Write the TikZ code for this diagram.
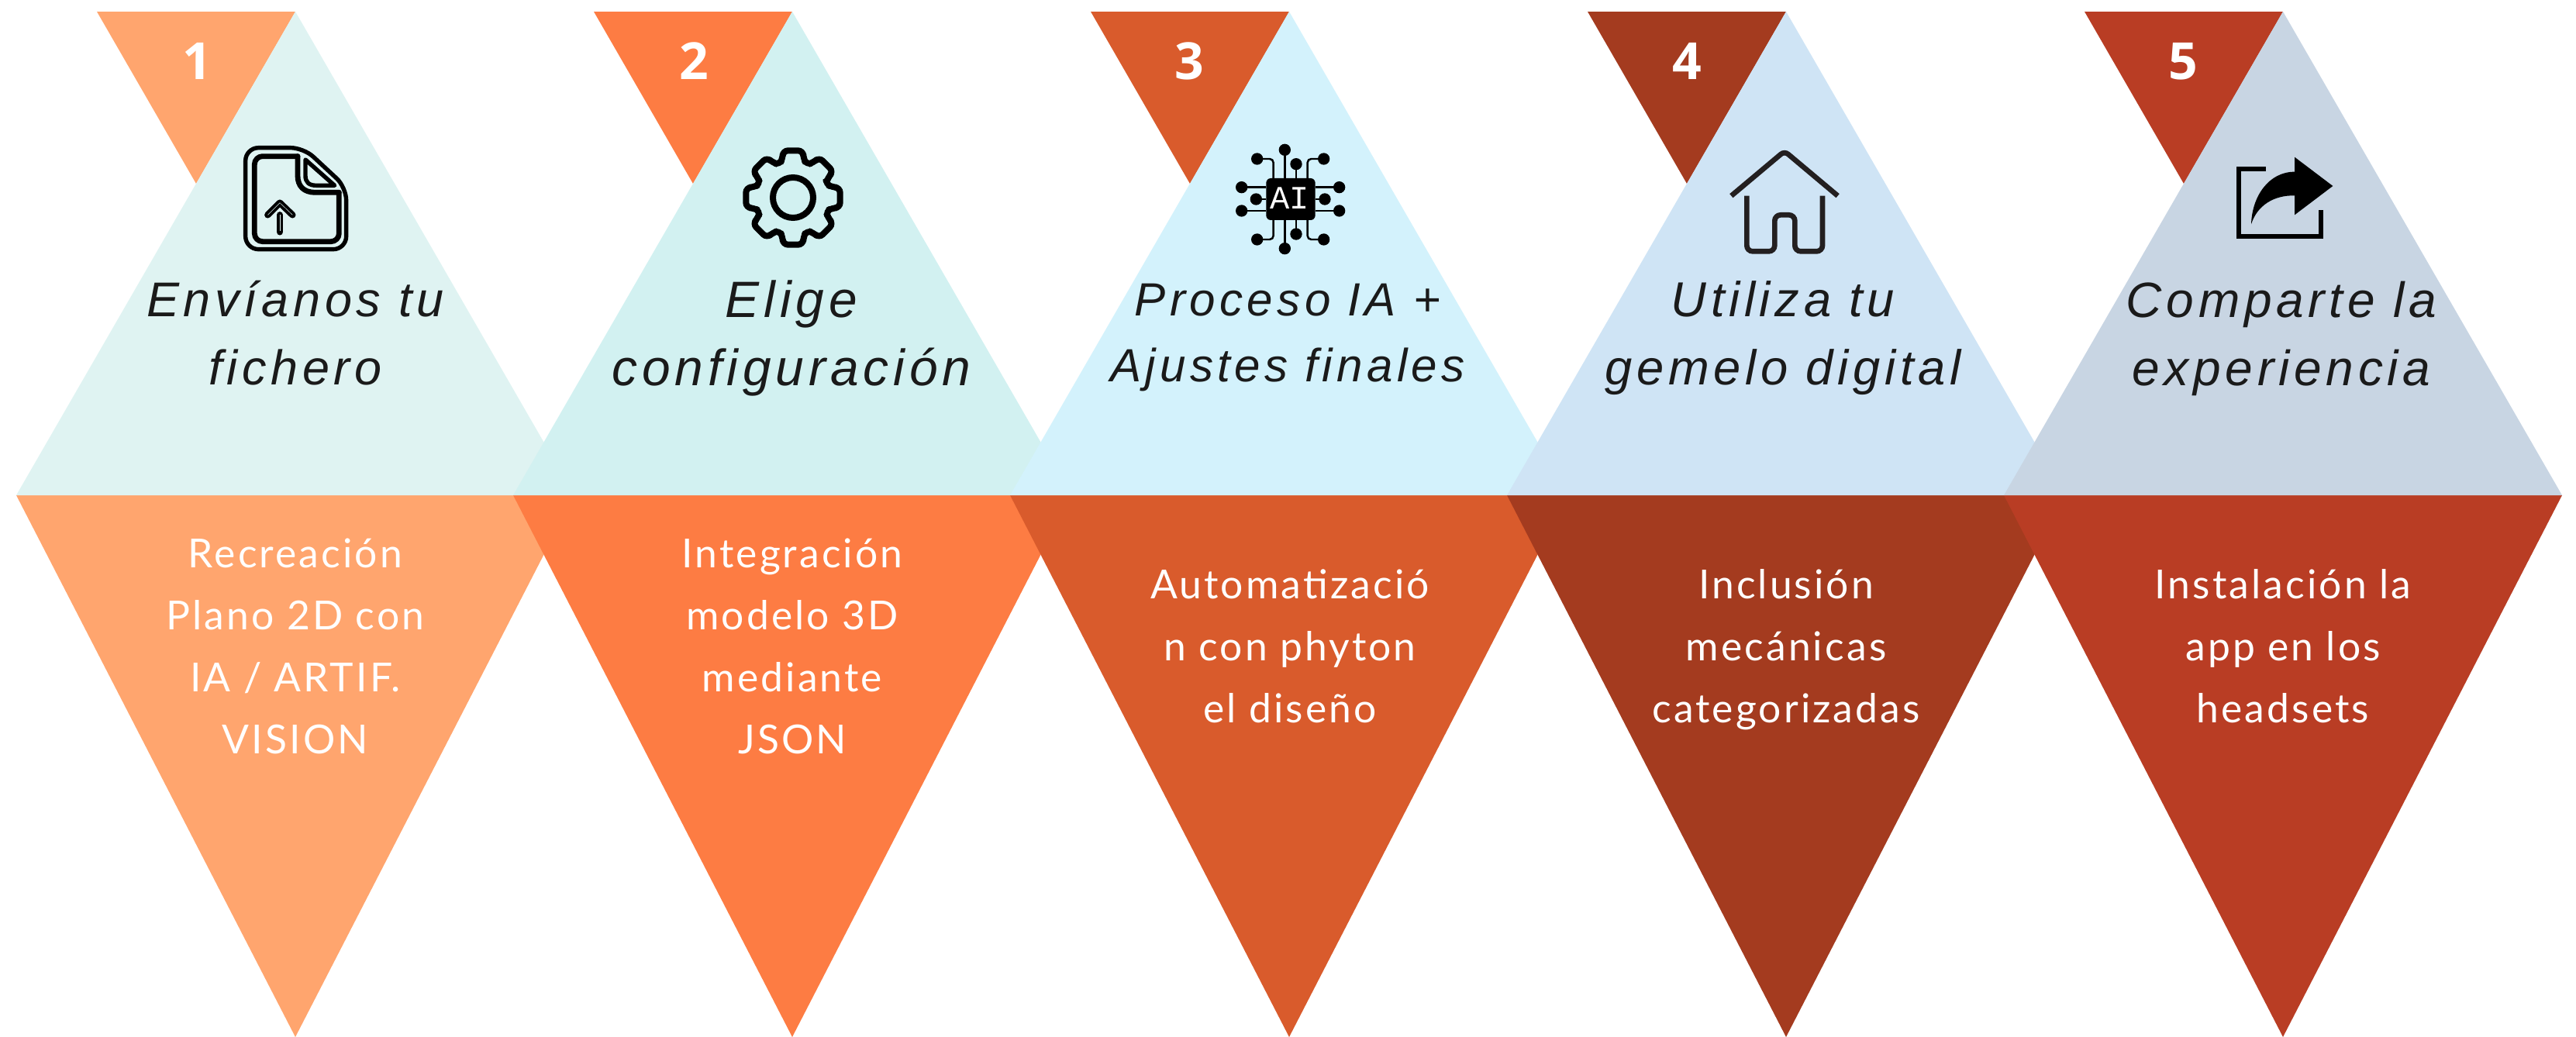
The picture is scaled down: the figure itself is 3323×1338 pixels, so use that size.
\documentclass[tikz,border=0pt]{standalone}
\usepackage{fontspec}
\setmainfont{Liberation Sans}
\newfontfamily\headfont[LetterSpace=9]{Liberation Sans}
\newfontfamily\bodyfont[LetterSpace=6]{Lato}
\newfontfamily\numfont{Open Sans}
\newfontfamily\chipfont{Liberation Mono}
\definecolor{topa}{HTML}{DFF3F2}
\definecolor{topb}{HTML}{D2F1F1}
\definecolor{topc}{HTML}{D3F2FC}
\definecolor{topd}{HTML}{CFE4F5}
\definecolor{tope}{HTML}{C8D5E3}
\definecolor{bota}{HTML}{FFA56E}
\definecolor{botb}{HTML}{FD7C43}
\definecolor{botc}{HTML}{D95B2C}
\definecolor{botd}{HTML}{A43B1F}
\definecolor{bote}{HTML}{B93D24}
\definecolor{ink}{HTML}{1A1A1A}
\definecolor{houseink}{HTML}{231F20}
\newcommand{\tb}{\rule[-0.25em]{0pt}{1em}}
\tikzset{
  headtext/.style={inner sep=0pt,align=center,text=ink},
  bodytext/.style={inner sep=0pt,align=center,text=white,font=\bodyfont\fontsize{12.9}{20.08}\selectfont},
  numtext/.style={inner sep=0pt,text=white,font=\numfont\bfseries\fontsize{16.5}{20}\selectfont},
  zoomed/.style={x=0.083333pt,y=-0.083333pt},
  wire/.style={line width=0.62pt,black,rounded corners=1.2pt},
  pad/.style={black},
}
\newcommand{\hf}[2]{\headfont\itshape\fontsize{#1}{#2}\selectfont}
\newcommand{\petal}[3]{% apex x, top colour, bottom colour
  \fill[#3] (#1-360,639) -- (#1+360,639) -- (#1,1338) -- cycle;
  \fill[#3] (#1-256,15) -- (#1,15) -- (#1-128,237) -- cycle;
  \fill[#2] (#1,15) -- (#1+360,639) -- (#1-360,639) -- cycle;
}
\begin{document}
\begin{tikzpicture}[x=0.25pt,y=-0.25pt]
\useasboundingbox (0,0) rectangle (3323,1338);
\fill[white] (0,0) rectangle (3323,1338);
\petal{381}{topa}{bota}
\petal{1022}{topb}{botb}
\petal{1663}{topc}{botc}
\petal{2304}{topd}{botd}
\petal{2945}{tope}{bote}

\node[numtext] (n1) at (254,79) {1};
\node[numtext] (n2) at (895,79) {2};
\node[numtext] (n3) at (1534,79) {3};
\node[numtext] (n4) at (2176,79) {4};
\node[numtext] (n5) at (2816,79) {5};

\node[headtext,font=\hf{15.74}{22}] (h1) at (381,437) {\tb Envíanos tu\\\tb fichero};
\node[headtext,font=\hf{16.47}{22}] (h2) at (1021,437) {\tb Elige\\\tb configuración};
\node[headtext,font=\hf{15.03}{21.25}] (h3) at (1661,435) {\tb Proceso IA +\\\tb Ajustes finales};
\node[headtext,font=\hf{15.83}{22}] (h4) at (2300,437) {\tb Utiliza tu\\\tb gemelo digital};
\node[headtext,font=\hf{16}{22}] (h5) at (2943,437) {\tb Comparte la\\\tb experiencia};

\node[bodytext] (b1) at (381,839.6) {\tb Recreación\\\tb Plano 2D con\\\tb IA / ARTIF.\\\tb VISION};
\node[bodytext] (b2) at (1022,839.6) {\tb Integración\\\tb modelo 3D\\\tb mediante\\\tb JSON};
\node[bodytext] (b3) at (1664,839.6) {\tb Automatizació\\\tb n con phyton\\\tb el diseño};
\node[bodytext] (b4) at (2304,839.6) {\tb Inclusión\\\tb mecánicas\\\tb categorizadas};
\node[bodytext] (b5) at (2945,839.6) {\tb Instalación la\\\tb app en los\\\tb headsets};

% file icon
\begin{scope}[shift={(280,170)},zoomed]
  \draw[black,line width=1.35pt,rounded corners=4.2pt] (110,62) -- (335,62) -- (500,215) -- (500,455) -- (110,455) -- cycle;
  \draw[black,line width=1.7pt,line join=round,line cap=round,rounded corners=2.6pt] (312,95) -- (145,95) -- (145,425) -- (472,425) -- (472,235);
  \draw[black,line width=1.7pt,line join=round,line cap=round] (472,235) -- (380,235) .. controls (335,235) and (312,210) .. (312,170) -- (312,95);
  \draw[black,line width=1.35pt,line join=round] (342,108) -- (455,208) -- (385,208) .. controls (355,208) and (342,195) .. (342,170) -- cycle;
  \draw[black,line width=2.1pt,line join=round,line cap=round] (196,322) -- (243,275) -- (292,322);
  \draw[black,line width=2.1pt,line cap=round] (243,322) -- (243,388);
  \draw[topa,line width=0.12pt] (196,322) -- (243,275) -- (292,322);
  \draw[topa,line width=0.12pt] (243,320) -- (243,385);
\end{scope}

% gear icon
\begin{scope}[shift={(1023,255)}]
  \draw[black,line width=2pt,rounded corners=1.6pt] (-22.5:46)
    foreach \k in {0,45,...,315}{
      -- (\k-22.5:46) -- (\k-15:52) -- (\k-12:62) -- (\k+12:62) -- (\k+15:52)
    } -- cycle;
  \draw[black,line width=2pt] (0,0) circle[radius=26];
\end{scope}

% AI chip icon
\begin{scope}[shift={(1550,160)},zoomed]
  \foreach \px/\py in {322/100,215/135,473/135,366/155,155/245,533/245,155/336,533/336,211/291,477/291,215/447,473/447,322/482,366/426}
    \fill[pad] (\px,\py) circle[radius=23];
  \draw[wire] (322,100) -- (322,210);
  \draw[wire] (366,155) -- (366,210);
  \draw[wire] (215,135) -- (278,135) -- (278,210);
  \draw[wire] (473,135) -- (410,135) -- (410,210);
  \draw[wire] (155,245) -- (250,245);
  \draw[wire] (155,336) -- (250,336);
  \draw[wire] (211,291) -- (250,291);
  \draw[wire] (533,245) -- (440,245);
  \draw[wire] (533,336) -- (440,336);
  \draw[wire] (477,291) -- (440,291);
  \draw[wire] (322,482) -- (322,372);
  \draw[wire] (366,426) -- (366,372);
  \draw[wire] (215,447) -- (278,447) -- (278,372);
  \draw[wire] (473,447) -- (410,447) -- (410,372);
  \fill[black,rounded corners=1.5pt] (250,210) rectangle (440,372);
  \node[inner sep=0pt,text=white,font=\chipfont\fontsize{10.5}{10.5}\selectfont] (chip) at (340,288) {AI};
\end{scope}

% house icon
\begin{scope}[shift={(2190,160)},zoomed]
  \draw[houseink,line width=1.67pt,rounded corners=1.5pt] (130,278) -- (336,105) -- (542,278);
  \draw[houseink,line width=1.67pt,rounded corners=1.9pt] (190,278) -- (190,493) -- (298,493) -- (298,352) -- (376,352) -- (376,493) -- (483,493) -- (483,278);
\end{scope}

% share icon
\begin{scope}[shift={(2830,170)},zoomed]
  \draw[black,line width=1.5pt] (278,145) -- (175,145) -- (175,405) -- (493,405) -- (493,303);
  \fill[black] (390,98) -- (538,210) -- (390,322) -- (390,247) .. controls (310,245) and (245,285) .. (222,358) .. controls (225,250) and (290,155) .. (390,155) -- cycle;
\end{scope}
\end{tikzpicture}
\end{document}
